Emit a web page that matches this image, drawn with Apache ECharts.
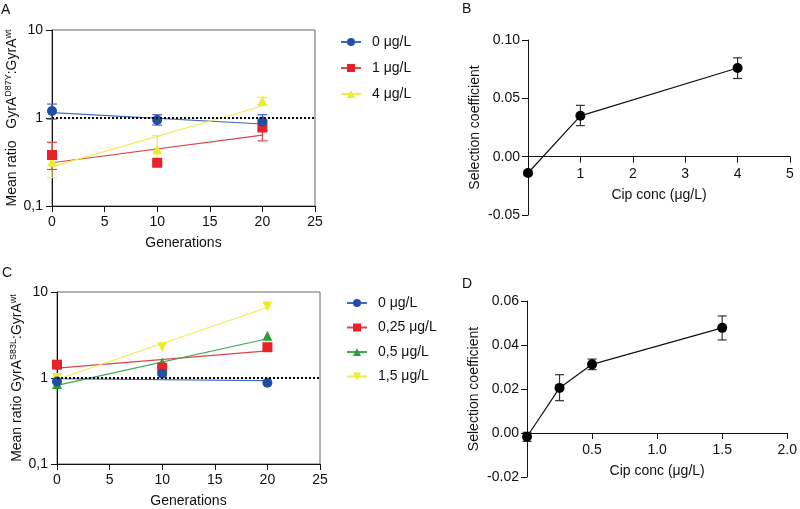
<!DOCTYPE html>
<html>
<head>
<meta charset="utf-8">
<script src="https://cdn.jsdelivr.net/npm/echarts@6/dist/echarts.min.js"></script>
<style>html,body{margin:0;padding:0;background:#fff}#c{width:800px;height:509px}</style>
</head>
<body>
<div id="c"></div>
<script>
// ---------- Panel A data (GyrA D87Y) ----------
const genX = [0, 10, 20];
const fitX = [0, 20];
const a_names = ['0 μg/L', '1 μg/L', '4 μg/L'];
const a_pts_0 = [1.2, 0.95, 0.91];
const a_pts_1 = [0.38, 0.31, 0.78];
const a_pts_4 = [0.32, 0.44, 1.56];
const a_lo_0 = [0.97, 0.83, 0.73];
const a_hi_0 = [1.44, 1.09, 1.09];
const a_lo_1 = [0.26, 0.30, 0.55];
const a_hi_1 = [0.53, 0.32, 0.95];
const a_lo_4 = [0.21, 0.33, 1.42];
const a_hi_4 = [0.52, 0.63, 1.72];
const a_fit_0 = [1.15, 0.855];
const a_fit_1 = [0.31, 0.64];
const a_fit_4 = [0.28, 1.37];

// ---------- Panel B data ----------
const b_conc = [0, 1, 4];
const b_sel = [-0.014, 0.035, 0.076];
const b_lo = [-0.016, 0.0266, 0.067];
const b_hi = [-0.012, 0.044, 0.0847];

// ---------- Panel C data (GyrA S83L) ----------
const c_names = ['0 μg/L', '0,25 μg/L', '0,5 μg/L', '1,5 μg/L'];
const c_pts_0 = [0.91, 1.12, 0.88];
const c_pts_025 = [1.43, 1.32, 2.28];
const c_pts_05 = [0.85, 1.51, 3.1];
const c_pts_15 = [1.0, 2.28, 6.8];
const c_fit_0 = [0.98, 0.93];
const c_fit_025 = [1.30, 2.07];
const c_fit_05 = [0.82, 2.86];
const c_fit_15 = [0.96, 6.6];

// ---------- Panel D data ----------
const d_conc = [0, 0.25, 0.5, 1.5];
const d_sel = [-0.0017, 0.0205, 0.0312, 0.0478];
const d_lo = [-0.0038, 0.0147, 0.0288, 0.0423];
const d_hi = [0.0003, 0.0265, 0.0336, 0.0532];

// tick labels
const b_yTicks = [-0.05, 0, 0.05, 0.10];
const d_yTicks = [-0.02, 0, 0.02, 0.04, 0.06];

const FONT = 'Liberation Sans, Arial, Helvetica, sans-serif';
const BLUE = '#1f4ea6', BLUE_L = '#3f69c4';
const RED = '#e8212b', RED_L = '#d8474c';
const YEL = '#ecec2e', YEL_L = '#eeee52';
const GRN = '#27a13a', GRN_L = '#3ea84c';

const zip = (xs, ys) => xs.map((x, i) => [x, ys[i]]);
const zip3 = (xs, lo, hi) => xs.map((x, i) => [x, lo[i], hi[i]]);

function errSeries(name, xi, yi, data, color, capW) {
  return {
    type: 'custom', name: name, xAxisIndex: xi, yAxisIndex: yi, clip: false, silent: true, z: 2,
    data: data,
    encode: { x: 0, y: [1, 2] },
    renderItem: function (params, api) {
      const x = api.value(0), lo = api.value(1), hi = api.value(2);
      const p1 = api.coord([x, hi]), p2 = api.coord([x, lo]);
      const st = { stroke: color, lineWidth: 1.2 };
      const h = capW / 2;
      return {
        type: 'group', children: [
          { type: 'line', shape: { x1: p1[0], y1: p1[1], x2: p2[0], y2: p2[1] }, style: st },
          { type: 'line', shape: { x1: p1[0] - h, y1: p1[1], x2: p1[0] + h, y2: p1[1] }, style: st },
          { type: 'line', shape: { x1: p2[0] - h, y1: p2[1], x2: p2[0] + h, y2: p2[1] }, style: st }
        ]
      };
    }
  };
}
function fitSeries(name, xi, yi, data, lineColor, markColor, symbol, rot) {
  return {
    type: 'line', name: name, xAxisIndex: xi, yAxisIndex: yi, data: data,
    showSymbol: false, symbol: symbol, symbolRotate: rot || 0, symbolSize: 9,
    lineStyle: { color: lineColor, width: 1.2 }, itemStyle: { color: markColor },
    z: 3, silent: true
  };
}
function ptSeries(name, xi, yi, data, color, symbol, rot, size) {
  return {
    type: 'scatter', name: name, xAxisIndex: xi, yAxisIndex: yi, data: data,
    symbol: symbol, symbolRotate: rot || 0, symbolSize: size || 10,
    itemStyle: { color: color, opacity: 1 }, clip: false, z: 4, silent: true
  };
}
const dotted = {
  symbol: 'none', silent: true, label: { show: false },
  lineStyle: { type: 'dotted', color: '#000', width: 2 },
  data: [{ yAxis: 1 }]
};

const axisTxt = { fontFamily: FONT, fontSize: 14, color: '#111' };
const logFmt = v => String(+(+v).toPrecision(3)).replace('.', ',');

function genXAxis(gi) {
  return {
    type: 'value', gridIndex: gi, min: 0, max: 25, interval: 5,
    name: 'Generations', nameLocation: 'middle', nameGap: 30,
    nameTextStyle: { fontFamily: FONT, fontSize: 14, color: '#111' },
    axisLine: { lineStyle: { color: '#111', width: 1 } },
    axisTick: { length: 6, lineStyle: { color: '#111' } },
    axisLabel: Object.assign({ margin: 9 }, axisTxt),
    splitLine: { show: false }
  };
}
function logYAxis(gi, pre, sup) {
  return {
    type: 'log', logBase: 10, gridIndex: gi, min: 0.1, max: 10,
    name: '{n|' + pre + 'GyrA}{s|' + sup + '}{n|:GyrA}{s|wt}',
    nameLocation: 'middle', nameRotate: 90, nameGap: 30,
    nameTextStyle: {
      fontFamily: FONT, fontSize: 14, color: '#111',
      rich: {
        n: { fontFamily: FONT, fontSize: 14, color: '#111', lineHeight: 18 },
        s: { fontFamily: FONT, fontSize: 9, color: '#111', lineHeight: 10, verticalAlign: 'top' }
      }
    },
    axisLine: { show: true, lineStyle: { color: '#111', width: 1 } },
    axisTick: { show: true, length: 6, lineStyle: { color: '#111' } },
    minorTick: { show: false },
    axisLabel: Object.assign({ margin: 9, formatter: logFmt }, axisTxt),
    splitLine: { show: false }
  };
}
// x axis drawn at y = 0: offset from the grid bottom by the zero position
function concXAxis(gi, max, interval, fmt, yTicks, gridH) {
  const ymin = yTicks[0], ymax = yTicks[yTicks.length - 1];
  const zeroOffset = gridH * (0 - ymin) / (ymax - ymin);
  return {
    type: 'value', gridIndex: gi, min: 0, max: max, interval: interval,
    position: 'bottom', offset: -zeroOffset,
    name: 'Cip conc (μg/L)', nameLocation: 'middle', nameGap: 31,
    nameTextStyle: { fontFamily: FONT, fontSize: 14, color: '#111' },
    axisLine: { onZero: false, lineStyle: { color: '#111', width: 1 } },
    axisTick: { length: 6, lineStyle: { color: '#111' } },
    axisLabel: Object.assign({ margin: 10, formatter: v => (v === 0 ? '' : fmt(v)) }, axisTxt),
    splitLine: { show: false }
  };
}
function selYAxis(gi, ticks) {
  const iv = +(ticks[1] - ticks[0]).toFixed(4);
  return {
    type: 'value', gridIndex: gi, min: ticks[0], max: ticks[ticks.length - 1], interval: iv,
    name: 'Selection coefficient', nameLocation: 'middle', nameRotate: 90, nameGap: 46,
    nameTextStyle: { fontFamily: FONT, fontSize: 14, color: '#111' },
    axisLine: { show: true, onZero: false, lineStyle: { color: '#111', width: 1 } },
    axisTick: { show: true, length: 6, lineStyle: { color: '#111' } },
    axisLabel: Object.assign({ margin: 8, formatter: v => (+v).toFixed(2) }, axisTxt),
    splitLine: { show: false }
  };
}

const legendBase = {
  orient: 'vertical', itemWidth: 20, itemHeight: 10, padding: 0,
  textStyle: { fontFamily: FONT, fontSize: 14, color: '#111', padding: [0, 0, 0, 6] },
  selectedMode: false, inactiveColor: '#111'
};

const GB_H = 175, GD_H = 176;

const option = {
  animation: false,
  backgroundColor: '#fff',
  title: [
    { text: 'A', left: 1, top: 3, padding: 0, textStyle: { fontFamily: FONT, fontSize: 14, fontWeight: 'normal', color: '#111' } },
    { text: 'B', left: 462, top: 2, padding: 0, textStyle: { fontFamily: FONT, fontSize: 14, fontWeight: 'normal', color: '#111' } },
    { text: 'C', left: 2, top: 266, padding: 0, textStyle: { fontFamily: FONT, fontSize: 14, fontWeight: 'normal', color: '#111' } },
    { text: 'D', left: 462, top: 277, padding: 0, textStyle: { fontFamily: FONT, fontSize: 14, fontWeight: 'normal', color: '#111' } }
  ],
  grid: [
    { left: 52, top: 30, width: 263, height: 176, show: true, borderColor: '#666', borderWidth: 1, backgroundColor: 'transparent' },
    { left: 528, top: 40, width: 262, height: GB_H },
    { left: 57, top: 292, width: 263, height: 175, show: true, borderColor: '#666', borderWidth: 1, backgroundColor: 'transparent' },
    { left: 527, top: 301, width: 263, height: GD_H }
  ],
  xAxis: [
    genXAxis(0),
    concXAxis(1, 5, 1, v => String(v), b_yTicks, GB_H),
    genXAxis(2),
    concXAxis(3, 2, 0.5, v => (+v).toFixed(1), d_yTicks, GD_H)
  ],
  yAxis: [
    logYAxis(0, 'Mean ratio   ', 'D87Y'),
    selYAxis(1, b_yTicks),
    logYAxis(2, 'Mean ratio ', 'S83L'),
    selYAxis(3, d_yTicks)
  ],
  legend: [
    Object.assign({}, legendBase, { left: 340, top: 35, itemGap: 12, data: a_names.map(n => n + '#A'), formatter: n => n.replace('#A', '') }),
    Object.assign({}, legendBase, { left: 346, top: 296, itemGap: 10.5, data: c_names.map(n => n + '#C'), formatter: n => n.replace('#C', '') })
  ],
  series: [
    // Panel A
    Object.assign(fitSeries(a_names[0] + '#A', 0, 0, zip(fitX, a_fit_0), BLUE_L, BLUE, 'circle'), { markLine: dotted }),
    fitSeries(a_names[1] + '#A', 0, 0, zip(fitX, a_fit_1), RED_L, RED, 'rect'),
    fitSeries(a_names[2] + '#A', 0, 0, zip(fitX, a_fit_4), YEL_L, YEL, 'triangle'),
    errSeries('errA4', 0, 0, zip3(genX, a_lo_4, a_hi_4), YEL_L, 10),
    errSeries('errA1', 0, 0, zip3(genX, a_lo_1, a_hi_1), RED_L, 10),
    errSeries('errA0', 0, 0, zip3(genX, a_lo_0, a_hi_0), BLUE_L, 10),
    ptSeries('ptA4', 0, 0, zip(genX, a_pts_4), YEL, 'triangle', 0, 10),
    ptSeries('ptA1', 0, 0, zip(genX, a_pts_1), RED, 'rect', 0, 10),
    ptSeries('ptA0', 0, 0, zip(genX, a_pts_0), BLUE, 'circle', 0, 10),
    // Panel B
    errSeries('errB', 1, 1, zip3(b_conc, b_lo, b_hi), '#333', 9),
    {
      type: 'line', name: 'B', xAxisIndex: 1, yAxisIndex: 1, data: zip(b_conc, b_sel),
      symbol: 'circle', symbolSize: 10, showSymbol: true, clip: false, silent: true,
      lineStyle: { color: '#111', width: 1.2 }, itemStyle: { color: '#000' }
    },
    // Panel C
    Object.assign(fitSeries(c_names[0] + '#C', 2, 2, zip(fitX, c_fit_0), BLUE_L, BLUE, 'circle'), { markLine: dotted }),
    fitSeries(c_names[1] + '#C', 2, 2, zip(fitX, c_fit_025), RED_L, RED, 'rect'),
    fitSeries(c_names[2] + '#C', 2, 2, zip(fitX, c_fit_05), GRN_L, GRN, 'triangle'),
    fitSeries(c_names[3] + '#C', 2, 2, zip(fitX, c_fit_15), YEL_L, YEL, 'triangle', 180),
    ptSeries('ptC15', 2, 2, zip(genX, c_pts_15), YEL, 'triangle', 180, 10),
    ptSeries('ptC05', 2, 2, zip(genX, c_pts_05), GRN, 'triangle', 0, 10),
    ptSeries('ptC025', 2, 2, zip(genX, c_pts_025), RED, 'rect', 0, 10),
    ptSeries('ptC0', 2, 2, zip(genX, c_pts_0), BLUE, 'circle', 0, 10),
    // Panel D
    errSeries('errD', 3, 3, zip3(d_conc, d_lo, d_hi), '#333', 9),
    {
      type: 'line', name: 'D', xAxisIndex: 3, yAxisIndex: 3, data: zip(d_conc, d_sel),
      symbol: 'circle', symbolSize: 10, showSymbol: true, clip: false, silent: true,
      lineStyle: { color: '#111', width: 1.2 }, itemStyle: { color: '#000' }
    }
  ]
};

const chart = echarts.init(document.getElementById('c'), null, { renderer: 'canvas' });
chart.setOption(option);
</script>
</body>
</html>
